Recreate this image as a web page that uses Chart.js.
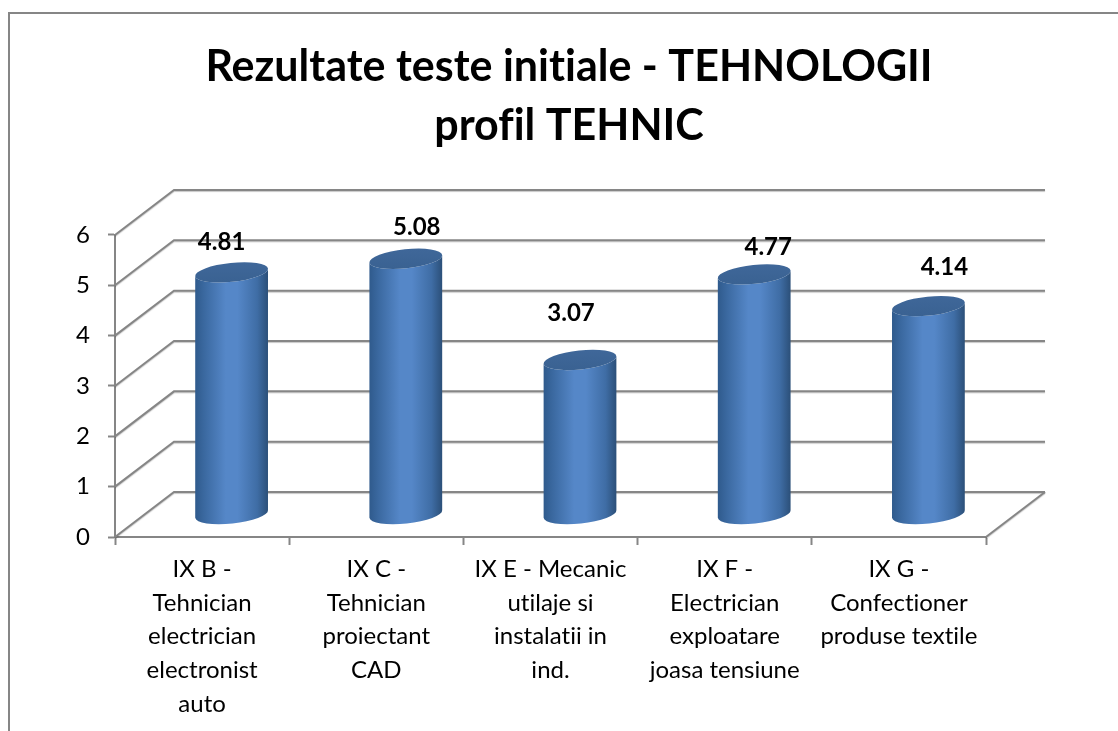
<!DOCTYPE html>
<html>
<head>
<meta charset="utf-8">
<style>html,body{margin:0;padding:0;background:#fff;overflow:hidden}#w{position:relative;width:1118px;height:731px}canvas{display:block}</style>
<script src="https://cdn.jsdelivr.net/npm/chart.js@4/dist/chart.umd.min.js"></script>
</head>
<body>
<div id="w"><canvas id="c" width="1118" height="731"></canvas></div>
<script>
const titleLines = ['Rezultate teste initiale - TEHNOLOGII', 'profil TEHNIC'];
const categories = [
  ['IX B -', 'Tehnician', 'electrician', 'electronist', 'auto'],
  ['IX C -', 'Tehnician', 'proiectant', 'CAD'],
  ['IX E - Mecanic', 'utilaje si', 'instalatii in', 'ind.'],
  ['IX F -', 'Electrician', 'exploatare', 'joasa tensiune'],
  ['IX G -', 'Confectioner', 'produse textile']
];
const seriesValues = [4.81, 5.08, 3.07, 4.77, 4.14];
const yTicks = [0, 1, 2, 3, 4, 5, 6];

const FONT = 'Lato, Carlito, sans-serif';
const GRID = '#868686';
const DEPTH_X = 59, DEPTH_Y = -45;
const LABEL_NUDGE = [[-10, 3], [11, 1], [-9, -14], [14, 6], [16, -6]];

const scene = {
  id: 'scene',
  afterLayout(chart) {
    const t = chart.titleBlock;
    if (t) { t.left = 20; t.right = 1118; }
  },
  beforeDraw(chart) {
    const c = chart.ctx;
    c.textRendering = 'optimizeSpeed';
    c.save();
    c.strokeStyle = GRID; c.lineWidth = 2;
    c.beginPath(); c.moveTo(9, 731); c.lineTo(9, 13); c.lineTo(1118, 13); c.stroke();
    c.restore();
  },
  beforeDatasetsDraw(chart) {
    const c = chart.ctx, y = chart.scales.y, a = chart.chartArea;
    c.save();
    c.strokeStyle = GRID; c.lineWidth = 2;
    c.shadowColor = 'rgba(0,0,0,0.22)'; c.shadowBlur = 1; c.shadowOffsetY = 1;
    yTicks.forEach(v => {
      const py = y.getPixelForValue(v);
      c.beginPath();
      c.moveTo(a.left, py);
      c.lineTo(a.left + DEPTH_X, py + DEPTH_Y);
      c.lineTo(a.right + DEPTH_X, py + DEPTH_Y);
      c.stroke();
    });
    const p0 = y.getPixelForValue(0);
    c.beginPath();
    c.moveTo(a.right, p0);
    c.lineTo(a.right + DEPTH_X, p0 + DEPTH_Y);
    c.stroke();
    c.restore();
  },
  afterDatasetsDraw(chart) {
    const c = chart.ctx, meta = chart.getDatasetMeta(0);
    const tilt = -6 * Math.PI / 180, rb = 9.5;
    meta.data.forEach((el, i) => {
      const rx = el.width / 2;
      const cx = el.x + DEPTH_X / 2;
      const ty = el.y + DEPTH_Y / 2;
      const by = el.base + DEPTH_Y / 2;
      c.save();
      const g = c.createLinearGradient(cx - rx, 0, cx + rx, 0);
      g.addColorStop(0, '#2f5a8c');
      g.addColorStop(0.12, '#3a689f');
      g.addColorStop(0.42, '#5587c8');
      g.addColorStop(0.58, '#5587c8');
      g.addColorStop(0.85, '#3f6da5');
      g.addColorStop(1, '#2b4f78');
      c.fillStyle = g;
      c.beginPath();
      c.ellipse(cx, by, rx, rb, tilt, Math.PI, 0, true);
      c.ellipse(cx, ty, rx, rb, tilt, 0, Math.PI, false);
      c.closePath();
      c.fill();
      const cap = c.createLinearGradient(0, ty - rb, 0, ty + rb);
      cap.addColorStop(0, '#3f6799');
      cap.addColorStop(1, '#3a6292');
      c.fillStyle = cap;
      c.beginPath();
      c.ellipse(cx, ty, rx, rb, tilt, 0, Math.PI * 2);
      c.fill();
      c.fillStyle = '#000';
      c.font = 'bold 24px ' + FONT;
      c.textAlign = 'center';
      c.textBaseline = 'middle';
      c.fillText(seriesValues[i].toFixed(2), cx + LABEL_NUDGE[i][0], ty - 33 + LABEL_NUDGE[i][1]);
      c.restore();
    });
  }
};

new Chart(document.getElementById('c'), {
  type: 'bar',
  data: {
    labels: categories,
    datasets: [{
      label: 'Rezultate',
      data: seriesValues,
      backgroundColor: 'rgba(0,0,0,0)',
      borderWidth: 0,
      barPercentage: 0.42,
      categoryPercentage: 1
    }]
  },
  plugins: [scene],
  options: {
    responsive: false,
    animation: false,
    devicePixelRatio: 1,
    layout: { padding: { left: 0, right: 132, top: 0, bottom: 0 } },
    plugins: {
      legend: { display: false },
      tooltip: { enabled: false },
      title: {
        display: true,
        text: titleLines,
        color: '#000',
        font: { family: FONT, size: 43, weight: 'bold', lineHeight: 1.372 },
        padding: { top: 37.5, bottom: 79.5 }
      }
    },
    scales: {
      x: {
        offset: true,
        border: { color: GRID, width: 2 },
        grid: { offset: true, drawOnChartArea: false, drawTicks: true, tickLength: 8, tickWidth: 2, tickColor: GRID, color: GRID },
        ticks: { color: '#000', maxRotation: 0, autoSkip: false, padding: 8, font: { family: FONT, size: 24, lineHeight: 1.396 } },
        afterFit(s) { s.height = 194; }
      },
      y: {
        min: 0, max: 6,
        border: { color: GRID, width: 2 },
        grid: { drawOnChartArea: false, drawTicks: true, tickLength: 7, tickWidth: 2, tickColor: GRID, color: GRID },
        ticks: { color: '#000', stepSize: 1, padding: 18, font: { family: FONT, size: 24 } },
        afterFit(s) { s.width = 115; }
      }
    }
  }
});
</script>
</body>
</html>
